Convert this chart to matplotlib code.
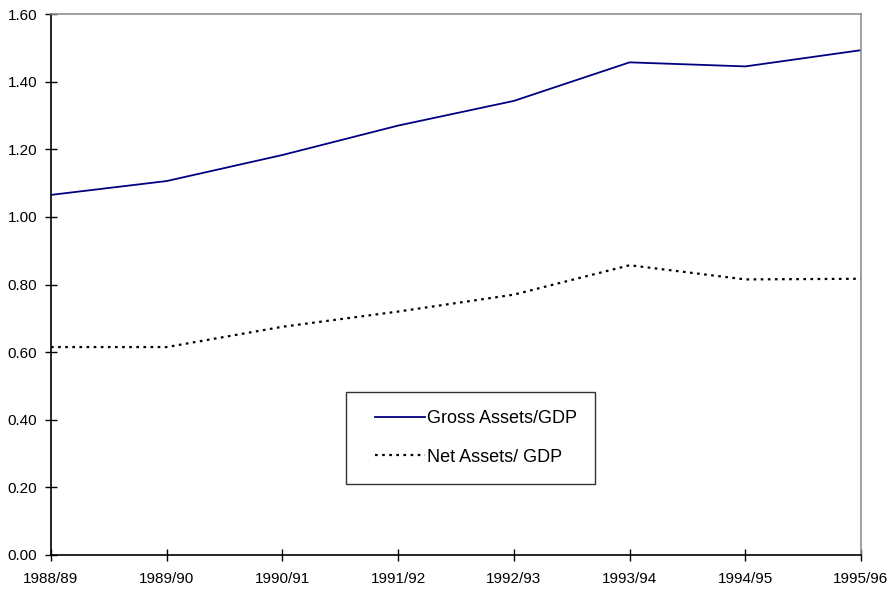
import matplotlib
matplotlib.use("Agg")
import matplotlib.pyplot as plt
import numpy as np
from matplotlib.legend_handler import HandlerLine2D

years = ["1988/89", "1989/90", "1990/91", "1991/92", "1992/93", "1993/94", "1994/95", "1995/96"]
gross = [1.065, 1.106, 1.183, 1.270, 1.343, 1.457, 1.445, 1.493]
net = [0.615, 0.615, 0.675, 0.720, 0.770, 0.857, 0.815, 0.817]
yticks = [0.0, 0.2, 0.4, 0.6, 0.8, 1.0, 1.2, 1.4, 1.6]

plt.rcParams['font.family'] = ['Liberation Sans', 'DejaVu Sans']


class ShortLineHandler(HandlerLine2D):
    def get_xdata(self, legend, xdescent, ydescent, width, height, fontsize):
        start = -xdescent + width * 0.18
        end = -xdescent + width
        xd = np.array([start, end])
        return xd, np.array([(start + end) / 2])


fig = plt.figure(figsize=(8.91, 5.92), dpi=100)
ax = fig.add_axes([51/891, 1-555/592, (861-51)/891, (555-14)/592])

x = list(range(len(years)))
ax.plot(x, gross, color='#000080', lw=1.3, label='Gross Assets/GDP')
ax.plot(x, net, color='black', lw=1.6, dashes=(1.2, 2.0), label='Net Assets/ GDP')

ax.set_xlim(0, len(years) - 1)
ax.set_ylim(0, 1.6)
ax.set_xticks(x)
ax.set_xticklabels(years)
ax.set_yticks(yticks)
ax.set_yticklabels([f"{v:.2f}" for v in yticks])
ax.tick_params(axis='both', direction='inout', length=8, width=1, labelsize=11, colors='black')
ax.tick_params(axis='x', pad=8)
ax.tick_params(axis='y', pad=6)

for s in ['left', 'bottom']:
    ax.spines[s].set_color('black')
    ax.spines[s].set_linewidth(1.2)
for s in ['top', 'right']:
    ax.spines[s].set_color('#909090')
    ax.spines[s].set_linewidth(1.2)

leg = ax.legend(loc='upper left', bbox_to_anchor=((346-51)/810, (555-392)/541),
                frameon=True, fancybox=False, edgecolor='black', fontsize=13,
                handlelength=3.4, handletextpad=0.1, labelspacing=1.2,
                borderpad=1.0, borderaxespad=0,
                handler_map={plt.Line2D: ShortLineHandler()})
leg.get_frame().set_linewidth(1.0)

fig.savefig('out.png', dpi=100)
